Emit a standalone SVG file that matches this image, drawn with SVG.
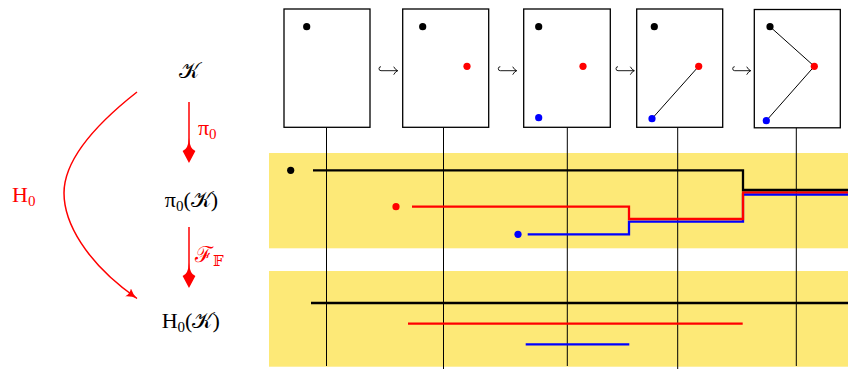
<svg xmlns="http://www.w3.org/2000/svg" width="848" height="369" viewBox="0 0 848 369">
<style>
.m{font-family:"Liberation Serif","DejaVu Serif",serif;font-size:22px;fill:#000}
.r{fill:#f00}
.box{fill:#fff;stroke:#000;stroke-width:1.3}
.vl{stroke:#000;stroke-width:1;fill:none}
.band{fill:#fde977}
.bar{fill:none;stroke-width:2.3}
.hook{fill:none;stroke:#000;stroke-width:0.9}
.edge{stroke:#000;stroke-width:1;fill:none}
.ar{fill:none;stroke:#f00;stroke-width:1.5}
</style>
<defs>
<marker id="ah" viewBox="0 0 12 10" refX="11" refY="5" markerWidth="12" markerHeight="10" markerUnits="userSpaceOnUse" orient="auto">
<path d="M0,0 Q5,4 11,5 Q5,6 0,10 Q3,5 0,0 Z" fill="#f00"/>
</marker>
</defs>

<g id="node-K"><text class="m" x="189" y="78" text-anchor="middle">𝒦</text></g>
<g id="node-pi0K"><text class="m" x="191.5" y="206.7" text-anchor="middle">π<tspan font-size="15" dy="4">0</tspan><tspan dy="-4">(𝒦)</tspan></text></g>
<g id="node-H0K"><text class="m" x="190.7" y="328" text-anchor="middle">H<tspan font-size="15" dy="4">0</tspan><tspan dy="-4">(𝒦)</tspan></text></g>

<g id="connectors">
<line x1="189" y1="102" x2="189" y2="156" stroke="#f00" stroke-width="1.5"/>
<path d="M189,163 L182.6,151 Q188.3,149 189,138 Q189.7,149 195.4,151 Z" fill="#f00"/>
<line x1="189" y1="227" x2="189" y2="281" stroke="#f00" stroke-width="1.5"/>
<path d="M189,288 L182.6,276 Q188.3,274 189,263 Q189.7,274 195.4,276 Z" fill="#f00"/>
<path class="ar" d="M137,92 C95,125 64,160 64,193 C64,222 85,262 137,298.5" marker-end="url(#ah)"/>
<text class="m r" x="198" y="135">π<tspan font-size="15" dy="4">0</tspan></text>
<text class="m r" x="195" y="262">ℱ<tspan font-size="15" dy="4">𝔽</tspan></text>
<text class="m r" x="12" y="201.7">H<tspan font-size="15" dy="4">0</tspan></text>
</g>

<g id="bands">
<rect class="band" x="269" y="153" width="579" height="95.3"/>
<rect class="band" x="269" y="271" width="579" height="95.7"/>
</g>

<g id="verticals">
<line class="vl" x1="326.5" y1="127.5" x2="326.5" y2="366"/>
<line class="vl" x1="443.5" y1="127.5" x2="443.5" y2="369"/>
<line class="vl" x1="567.3" y1="127.5" x2="567.3" y2="366"/>
<line class="vl" x1="677.7" y1="127.5" x2="677.7" y2="369"/>
<line class="vl" x1="796.3" y1="127.5" x2="796.3" y2="366"/>
</g>

<g id="box1">
<rect class="box" x="284" y="9" width="86" height="118.3"/>
<circle cx="306.7" cy="26.7" r="3.6" fill="#000"/>
</g>
<g id="box2">
<rect class="box" x="402.7" y="9" width="86" height="118.3"/>
<circle cx="422.7" cy="26.7" r="3.6" fill="#000"/>
<circle cx="467" cy="66.3" r="3.6" fill="#f00"/>
</g>
<g id="box3">
<rect class="box" x="523.7" y="9" width="86.6" height="118.3"/>
<circle cx="538.7" cy="26.7" r="3.6" fill="#000"/>
<circle cx="583" cy="66.3" r="3.6" fill="#f00"/>
<circle cx="538.7" cy="117.7" r="3.6" fill="#00f"/>
</g>
<g id="box4">
<rect class="box" x="636.7" y="9" width="86" height="118.3"/>
<line class="edge" x1="652" y1="118.7" x2="698.7" y2="66.3"/>
<circle cx="654.3" cy="26.7" r="3.6" fill="#000"/>
<circle cx="698.7" cy="66.3" r="3.6" fill="#f00"/>
<circle cx="652" cy="118.7" r="3.6" fill="#00f"/>
</g>
<g id="box5">
<rect class="box" x="754.3" y="9.5" width="86" height="118.3"/>
<polyline class="edge" points="770,26.7 814.3,66.3 766.3,120.7"/>
<circle cx="770" cy="26.7" r="3.6" fill="#000"/>
<circle cx="814.3" cy="66.3" r="3.6" fill="#f00"/>
<circle cx="766.3" cy="120.7" r="3.6" fill="#00f"/>
</g>

<g id="hooks">
<path class="hook" d="M381,66.7 A2,2 0 0 0 381,70.7 L397.7,70.7 M393.7,66.7 Q395.5,70 397.7,70.7 Q395.5,71.4 393.7,74.7"/>
<path class="hook" d="M500.3,66.7 A2,2 0 0 0 500.3,70.7 L516.7,70.7 M512.7,66.7 Q514.5,70 516.7,70.7 Q514.5,71.4 512.7,74.7"/>
<path class="hook" d="M618,66.7 A2,2 0 0 0 618,70.7 L634.3,70.7 M630.3,66.7 Q632.1,70 634.3,70.7 Q632.1,71.4 630.3,74.7"/>
<path class="hook" d="M734.7,66.7 A2,2 0 0 0 734.7,70.7 L750.7,70.7 M746.7,66.7 Q748.5,70 750.7,70.7 Q748.5,71.4 746.7,74.7"/>
</g>

<g id="barcode-pi0">
<circle cx="290.7" cy="170.3" r="3.6" fill="#000"/>
<circle cx="396" cy="206.7" r="3.6" fill="#f00"/>
<circle cx="518" cy="234.3" r="3.6" fill="#00f"/>
<path class="bar" stroke="#00f" d="M527.7,234.3 H629 V221.7 H743 V194.5 H848"/>
<path class="bar" stroke="#f00" d="M412,206.7 H629 V219 H743 V192.3 H848"/>
<path class="bar" stroke="#000" d="M313,170.3 H743 V190 H848"/>
</g>

<g id="barcode-H0">
<path class="bar" stroke="#000" d="M311,303 H848"/>
<path class="bar" stroke="#f00" d="M408,323.7 H742.7"/>
<path class="bar" stroke="#00f" d="M525.7,344.3 H629.3"/>
</g>
</svg>
